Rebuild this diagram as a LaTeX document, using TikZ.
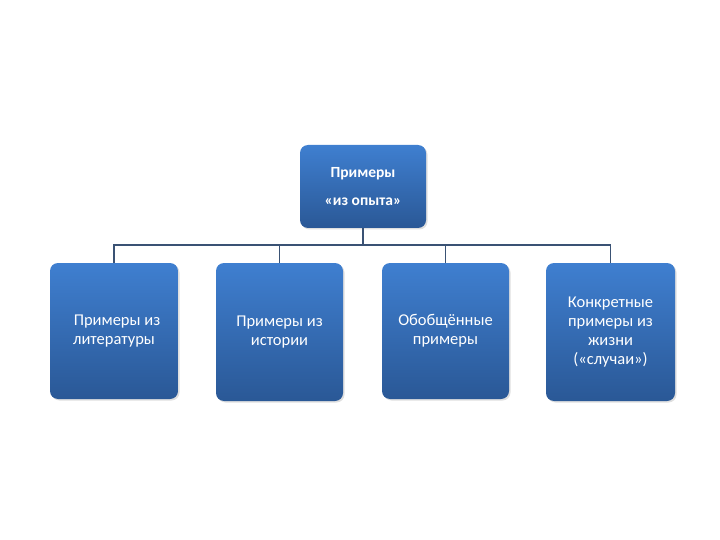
\documentclass[tikz,border=0pt]{standalone}
\usepackage{fontspec}
\setmainfont{Carlito}
\usetikzlibrary{shadows}
\definecolor{boxtop}{HTML}{3F7FD0}
\definecolor{boxbot}{HTML}{2A5896}
\definecolor{linec}{HTML}{3A5274}
\tikzset{
  blbox/.style={rounded corners=8pt, top color=boxtop, bottom color=boxbot,
    draw=none, text=white, align=center, inner sep=2pt,
    drop shadow={opacity=0.25, shadow xshift=1.5pt, shadow yshift=-1.5pt},
    font=\fontsize{16.5}{19}\selectfont},
  conn/.style={draw=linec, line width=1.6pt}
}
\begin{document}
\begin{tikzpicture}[x=1pt,y=-1pt]
\useasboundingbox (0,0) rectangle (720,540);
\node[blbox, minimum width=126pt, minimum height=83pt, font=\bfseries\fontsize{15.5}{28}\selectfont] (top) at (363,186.5) {Примеры\\«из опыта»};
\node[blbox, minimum width=128pt, minimum height=136pt] (b1) at (114,331) {\hspace*{6pt}Примеры из\\литературы};
\node[blbox, minimum width=127pt, minimum height=138pt] (b2) at (279.5,332) {Примеры из\\истории};
\node[blbox, minimum width=127pt, minimum height=136pt] (b3) at (445.5,331) {Обобщённые\\примеры};
\node[blbox, minimum width=129pt, minimum height=138pt] (b4) at (610.5,332) {Конкретные\\примеры из\\жизни\\(«случаи»)};
\coordinate (j) at (363,245);
\draw[conn] (top.south) -- (j);
\draw[conn] (b1.north) |- (j) -| (b4.north);
\draw[conn] (b2.north) -- (b2.north |- j);
\draw[conn] (b3.north) -- (b3.north |- j);
\end{tikzpicture}
\end{document}
